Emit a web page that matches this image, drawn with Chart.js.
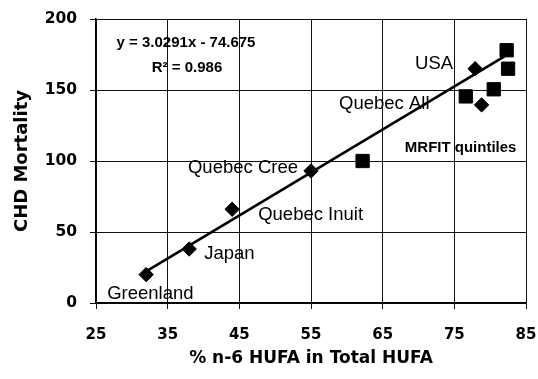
<!DOCTYPE html>
<html>
<head>
<meta charset="utf-8">
<script src="https://cdn.jsdelivr.net/npm/chart.js@4/dist/chart.umd.min.js"></script>
<style>
  html, body { margin: 0; padding: 0; background: #ffffff; }
  #wrap { width: 538px; height: 379px; }
</style>
</head>
<body>
<div id="wrap"><canvas id="chart" width="538" height="379"></canvas></div>
<script>
// Population groups (diamonds)
const populationNames = ['Greenland', 'Japan', 'Quebec Inuit', 'Quebec Cree', 'USA', 'Quebec All'];
const populationHufa = [32, 38, 44, 55, 77.9, 78.8];
const populationChd = [20, 38, 66, 93, 165, 139.5];

// MRFIT quintiles (squares)
const quintileHufa = [62.2, 76.6, 80.5, 82.3, 82.5];
const quintileChd = [100, 145.5, 150.5, 178, 165];

// Linear trend line y = slope * x + intercept
const trendSlope = 3.0291;
const trendIntercept = -74.675;
const trendRSquared = 0.986;
const trendRange = [32, 82];

// Axis ticks
const xTicks = [25, 35, 45, 55, 65, 75, 85];
const yTicks = [0, 50, 100, 150, 200];

const trendPoints = trendRange.map(x => ({ x: x, y: trendSlope * x + trendIntercept }));
const populationPoints = populationHufa.map((x, i) => ({ x: x, y: populationChd[i] }));
const quintilePoints = quintileHufa.map((x, i) => ({ x: x, y: quintileChd[i] }));

// Where each point label sits relative to its marker (pixels)
const populationLabelPlacement = [
  { dx: -39, dy: 19, align: 'left' },
  { dx: 15, dy: 5, align: 'left' },
  { dx: 26, dy: 6, align: 'left' },
  { dx: -13, dy: -3, align: 'right' },
  { dx: -22, dy: -5, align: 'right' },
  { dx: -52, dy: -1, align: 'right' }
];
const quintileCaption = 'MRFIT quintiles';
const quintileCaptionPlacement = { index: 1, dx: -61, dy: 51, align: 'left' };

const labelFont = '18.5px "Liberation Sans", Arial, sans-serif';
const boldSmallFont = 'bold 15px "Liberation Sans", Arial, sans-serif';
const axisFont = '"DejaVu Sans", sans-serif';

const labelPlugin = {
  id: 'pointLabels',
  afterDatasetsDraw(chart) {
    const ctx = chart.ctx;
    ctx.save();
    ctx.fillStyle = '#000';
    ctx.textBaseline = 'middle';

    const popMeta = chart.getDatasetMeta(1);
    ctx.font = labelFont;
    populationNames.forEach((name, i) => {
      const el = popMeta.data[i];
      const p = populationLabelPlacement[i];
      ctx.textAlign = p.align;
      ctx.fillText(name, el.x + p.dx, el.y + p.dy);
    });

    const qMeta = chart.getDatasetMeta(2);
    const qEl = qMeta.data[quintileCaptionPlacement.index];
    ctx.font = boldSmallFont;
    ctx.textAlign = quintileCaptionPlacement.align;
    ctx.fillText(quintileCaption, qEl.x + quintileCaptionPlacement.dx, qEl.y + quintileCaptionPlacement.dy);

    // Trend equation
    const area = chart.chartArea;
    const sign = trendIntercept < 0 ? '-' : '+';
    const eq = 'y = ' + trendSlope.toFixed(4) + 'x ' + sign + ' ' + Math.abs(trendIntercept).toFixed(3);
    ctx.textAlign = 'center';
    ctx.font = boldSmallFont;
    ctx.fillText(eq, area.left + 90, area.top + 24);
    ctx.fillText('R\u00B2 = ' + trendRSquared.toFixed(3), area.left + 91, area.top + 49);
    ctx.restore();
  }
};

new Chart(document.getElementById('chart'), {
  type: 'scatter',
  data: {
    datasets: [
      {
        type: 'line',
        label: 'Linear trend',
        data: trendPoints,
        borderColor: '#000',
        borderWidth: 2.6,
        pointRadius: 0,
        fill: false,
        tension: 0
      },
      {
        label: 'Populations',
        data: populationPoints,
        pointStyle: 'rectRot',
        pointRadius: 7.2,
        backgroundColor: '#000',
        borderColor: '#000',
        borderWidth: 1
      },
      {
        label: 'MRFIT quintiles',
        data: quintilePoints,
        pointStyle: 'rect',
        pointRadius: 9.4,
        backgroundColor: '#000',
        borderColor: '#000',
        borderWidth: 1
      }
    ]
  },
  options: {
    responsive: false,
    animation: false,
    devicePixelRatio: 1,
    layout: { padding: { top: 19, right: 12, left: 0, bottom: 0 } },
    plugins: {
      legend: { display: false },
      tooltip: { enabled: false }
    },
    scales: {
      x: {
        type: 'linear',
        min: xTicks[0],
        max: xTicks[xTicks.length - 1],
        afterBuildTicks(scale) { scale.ticks = xTicks.map(v => ({ value: v })); },
        afterFit(scale) {
          scale.height = 76;
          scale.paddingLeft = 0;
          scale.paddingRight = 0;
        },
        grid: { color: '#111', lineWidth: 1, tickLength: 6, drawTicks: true },
        border: { color: '#000', width: 1.5 },
        ticks: {
          color: '#000',
          padding: 17,
          maxRotation: 0,
          font: { family: axisFont, weight: 'bold', size: 15 }
        },
        title: {
          display: true,
          text: '% n-6 HUFA in Total HUFA',
          color: '#000',
          padding: { top: 0, bottom: 10 },
          font: { family: axisFont, weight: 'bold', size: 17 }
        }
      },
      y: {
        type: 'linear',
        min: yTicks[0],
        max: yTicks[yTicks.length - 1],
        afterBuildTicks(scale) { scale.ticks = yTicks.map(v => ({ value: v })); },
        afterFit(scale) {
          scale.width = 96;
          scale.paddingTop = 0;
          scale.paddingBottom = 0;
        },
        grid: { color: '#111', lineWidth: 1, tickLength: 6, drawTicks: true },
        border: { color: '#000', width: 1.5 },
        ticks: {
          color: '#000',
          padding: 13,
          font: { family: axisFont, weight: 'bold', size: 15.5 }
        },
        title: {
          display: true,
          text: 'CHD Mortality',
          color: '#000',
          padding: { top: 12, bottom: 0 },
          font: { family: axisFont, weight: 'bold', size: 18 }
        }
      }
    }
  },
  plugins: [labelPlugin]
});
</script>
</body>
</html>
